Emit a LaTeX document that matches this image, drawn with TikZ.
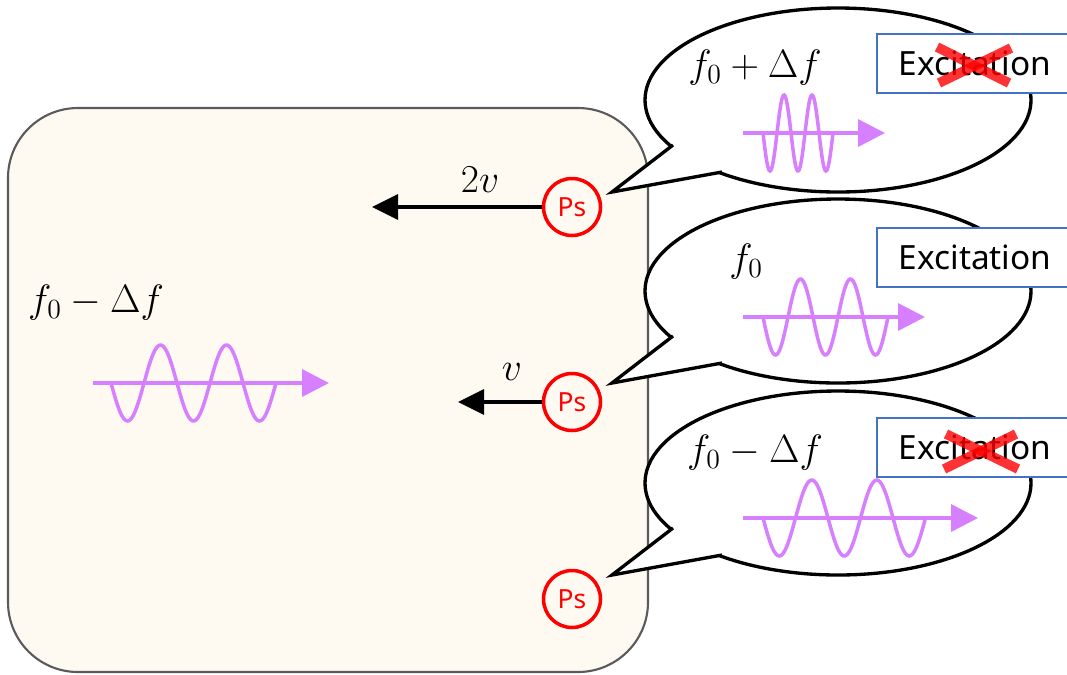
\RequirePackage{fix-cm}
\documentclass[tikz,border=0pt]{standalone}
\usepackage{fontspec}
\newfontfamily\labelfont{Noto Sans}
\usetikzlibrary{arrows.meta}
\definecolor{creme}{RGB}{254,250,242}
\definecolor{boxgray}{RGB}{90,90,90}
\definecolor{wavepink}{RGB}{214,128,255}
\definecolor{excblue}{RGB}{68,114,196}
% onda: inizio asse, quota, inizio onda, periodo, punta
\newcommand{\sigwave}[5]{%
  \draw[wavepink, line width=2pt, -{Triangle[length=0.54cm,width=0.54cm]}] (#1,#2) -- (#5,#2);
  \draw[wavepink, line width=2pt] plot[domain=0:2.5, samples=90, smooth] ({#3+#4*\x},{#2+38*sin(360*\x)});
}
\tikzset{
  mathlbl/.style={font=\fontsize{22.5}{27}\selectfont},
  psnode/.style={circle, draw=red, line width=2pt, minimum size=1.14cm, inner sep=0pt,
    text=red, font=\labelfont\fontsize{15}{18}\selectfont},
  excbox/.style={draw=excblue, fill=white, line width=1.2pt, minimum width=3.92cm,
    minimum height=1.18cm, font=\labelfont\fontsize{19}{22}\selectfont},
  bubble/.style={draw=black, fill=white, line width=1.9pt},
  redcross/.style={red, opacity=0.8, line width=5.5pt},
  vel/.style={line width=1.9pt, -{Triangle[length=0.52cm,width=0.5cm]}}
}
\begin{document}
\begin{tikzpicture}[x=0.02cm, y=-0.02cm]
    \clip (0,0) rectangle (1067,674);

    % Contenitore
    \draw[fill=creme, draw=boxgray, line width=1.2pt, rounded corners=1.4cm] (8,108) rectangle (648,672);

    % Nuvolette
    \foreach \cy in {100,291,483} {
        \draw[bubble] (838,\cy) ellipse (193 and 92);
        \fill[white] (673,\cy+45) -- (612,\cy+92) -- (722,\cy+72) -- (705,\cy+40) -- cycle;
        \draw[line width=1.9pt, line join=miter] (673,\cy+45) -- (612,\cy+92) -- (722,\cy+72);
    }

    % Eccitazione
    \node[excbox] (exc1) at (975,63.5) {Excitation};
    \node[excbox] (exc2) at (975,257.5) {Excitation};
    \node[excbox] (exc3) at (975,447.5) {Excitation};
    \draw[redcross] (937,47) -- (1009,83);
    \draw[redcross] (939,83) -- (1011,48);
    \draw[redcross] (946,434) -- (1018,469);
    \draw[redcross] (944,469) -- (1016,434);

    % Positronio
    \node[psnode] (ps1) at (572,207) {Ps};
    \node[psnode] (ps2) at (572,402) {Ps};
    \node[psnode] (ps3) at (572,599) {Ps};
    \coordinate (v2end) at (372,207);
    \coordinate (v1end) at (458,402);
    \draw[vel] (ps1.west) -- (v2end);
    \draw[vel] (ps2.west) -- (v1end);
    \node[mathlbl] (v2lbl) at (480,180) {$2v$};
    \node[mathlbl] (v1lbl) at (512,372) {$v$};

    % Frequenze
    \node[mathlbl] (fleft) at (96,303) {$f_0-\Delta f$};
    \node[mathlbl] (fup) at (755,68) {$f_0+\Delta f$};
    \node[mathlbl] (fmid) at (746,262) {$f_0$};
    \node[mathlbl] (fdown) at (755,453) {$f_0-\Delta f$};

    % Onde
    \sigwave{93}{383}{111}{66}{329}
    \sigwave{743}{133}{763}{28}{885}
    \sigwave{743}{317}{763}{50}{925}
    \sigwave{743}{518}{763}{65}{978}
\end{tikzpicture}
\end{document}
